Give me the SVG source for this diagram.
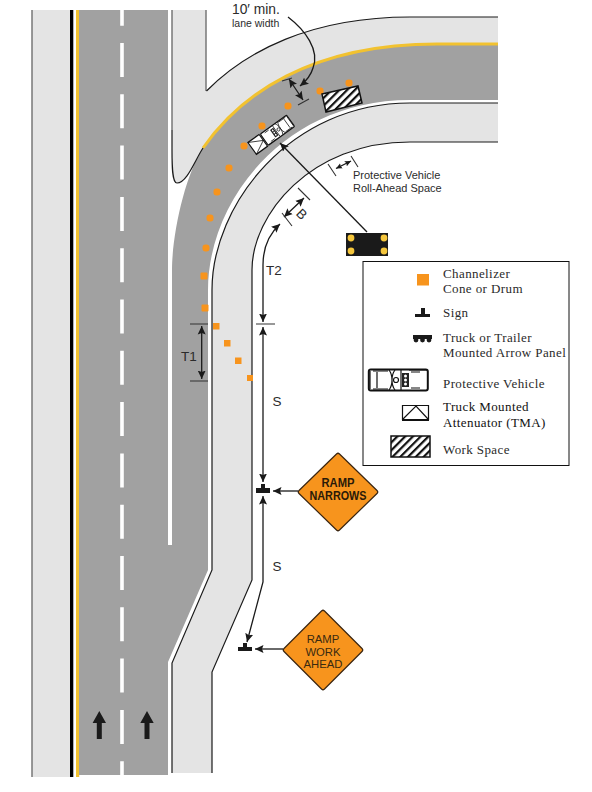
<svg xmlns="http://www.w3.org/2000/svg" width="592" height="792" viewBox="0 0 592 792">
<style>
text{font-family:"Liberation Sans",Arial,sans-serif;fill:#2b2b2b}
.lg{font-family:"Liberation Serif","Times New Roman",serif;font-size:13px;letter-spacing:.4px;fill:#2a2a2a}
.dim{font-size:13.5px}
.small{font-size:11px}
.road{fill:#a1a1a1}
.sh{fill:#e4e4e4}
.edge{fill:none;stroke:#1a1a1a;stroke-width:1.2}
.edgeg{fill:none;stroke:#777;stroke-width:1.5}
.con{fill:none;stroke:#1a1a1a;stroke-width:1.3}
.tick{fill:none;stroke:#333;stroke-width:1.1}
.cone{fill:#f7941d}
.dia{fill:#f7941d;stroke:#3a2510;stroke-width:1.2;stroke-linejoin:round}
.ink{fill:#1a1a1a}
.veh{fill:#fff;stroke:#111;stroke-width:2}
.thin{fill:none;stroke:#111;stroke-width:1.2}
</style>
<defs>
<marker id="ah" viewBox="0 0 9 9" refX="8.5" refY="4.5" markerWidth="9" markerHeight="9" markerUnits="userSpaceOnUse" orient="auto-start-reverse"><path d="M0,.5 L8.5,4.5 L0,8.5 L1.5,4.5 Z" fill="#1a1a1a"/></marker>
<marker id="as" viewBox="0 0 9 9" refX="8.5" refY="4.500" markerWidth="6.500" markerHeight="6.500" markerUnits="userSpaceOnUse" orient="auto-start-reverse"><path d="M0,.5 L8.5,4.5 L0,8.5 L1.5,4.5 Z" fill="#1a1a1a"/></marker>
<pattern id="hatch" width="5.500" height="5.500" patternUnits="userSpaceOnUse" patternTransform="rotate(45)"><rect width="5.500" height="5.500" fill="#fff"/><rect width="2.200" height="5.500" fill="#111"/></pattern>
<g id="truck">
<rect class="veh" x="0.8" y="-10.5" width="59" height="21" rx="2"/>
<path class="thin" d="M2,-9 L2,9 M5,-9 L20,-9 M5,9 L20,9 M9,-8 L9,8 M21,-10 C25,-5 25,5 21,10 M27,-10 C23,-5 23,5 27,10 M33,-10 L33,10 M41,-10 L59,-10 M43,-8 L52,-8 M43,8 L52,8"/>
<circle class="thin" cx="28" cy="0" r="2.500"/>
<rect x="34" y="-7" width="7" height="14" fill="#222"/>
<circle cx="37.500" cy="-4" r="1.500" fill="#fff"/><circle cx="37.500" cy="0" r="1.500" fill="#fff"/><circle cx="37.500" cy="4" r="1.500" fill="#fff"/>
</g>
</defs>
<rect width="592" height="792" fill="#fff"/>
<g id="roadway">
<rect class="sh" x="32" y="10" width="38" height="767"/>
<path class="edgeg" d="M32,10 V777"/>
<rect x="70" y="10" width="3.300" height="767" fill="#000"/>
<rect x="76" y="10" width="3.200" height="767" fill="#f2c230"/>
<rect class="road" x="79" y="10" width="89" height="765"/>
<path class="road" d="M172,545 V270 C172,235 185,175 203,148 C240,95 310,44 437,44 H498 V100 H410 C285,100 208,200 208,290 V570 L168,662 V545 Z"/>
<path d="M122,10 V775" fill="none" stroke="#fff" stroke-width="3.600" stroke-dasharray="34 17.300" stroke-dashoffset="18.300"/>
<path class="sh" d="M172,10 H206 V91 C245,52 310,17 410,17 H498 V44 H437 C310,44 240,95 203,148 C195,160 187,183 177,183 C172,183 172,165 172,150 Z"/>
<path class="sh" d="M212,773 V672 L252,580 V270 C252,215 310,142 410,142 H498 V103 H410 C290,103 212,205 212,290 V570 L172,663 V773 Z"/>
<path d="M203,148 C240,95 310,44 437,44 H498" fill="none" stroke="#f2c230" stroke-width="3"/>
<path class="edgeg" d="M172,10 V130"/>
<path class="edge" d="M172,130 V150 C172,165 172,183 177,183 C187,183 195,160 203,148"/>
<path class="edgeg" d="M206,10 V91"/>
<path class="edge" d="M206.500,91 C245,52 310,17 410,17 H498"/>
<path class="edge" d="M172,773 V663 L212,570 V290 C212,205 290,103 410,103 H498"/>
<path class="edge" d="M212,773 V672 L252,580 V270 C252,215 310,142 410,142 H498"/>
<path d="M99.300,711 L106,723 H101.800 V739 H96.800 V723 H92.600 Z M147,711 L153.700,723 H149.500 V739 H144.500 V723 H140.300 Z" class="ink"/>
</g>
<g id="channelizers" class="cone">
<rect x="345.500" y="79.500" width="7" height="7" rx="3"/><rect x="316.500" y="87.500" width="7" height="7" rx="3"/><rect x="284.500" y="102.500" width="7" height="7" rx="3"/><rect x="258.500" y="122.500" width="7" height="7" rx="3"/><rect x="240.500" y="142.500" width="7" height="7" rx="3"/><rect x="225.500" y="164.500" width="7" height="7" rx="3"/><rect x="213.500" y="188.500" width="7" height="7" rx="3"/><rect x="206.500" y="214.500" width="7" height="7" rx="3"/><rect x="202.500" y="244.500" width="7" height="7" rx="3"/><rect x="200.500" y="272.500" width="7" height="7" rx="1"/><rect x="201.500" y="304.500" width="7" height="7" rx="1"/><rect x="213" y="323" width="6.500" height="6.500"/><rect x="224" y="340" width="6.500" height="6.500"/><rect x="235" y="357.500" width="6.500" height="6.500"/><rect x="247" y="375" width="6" height="6"/>
</g>
<g id="work-space"><path d="M322,94 L358,86 L362,103 L326,112 Z" fill="url(#hatch)" stroke="#111" stroke-width="1.500"/></g>
<g id="protective-vehicle" transform="translate(291,120.500) rotate(144.300) scale(.55,.66)">
<use href="#truck"/>
<rect class="veh" x="62" y="-11" width="25" height="22" stroke-width="2.800"/>
<path class="thin" stroke-width="1.800" d="M62,0 L87,-11 M62,0 L87,11"/>
</g>
<g id="arrow-panel">
<rect x="346" y="233" width="42" height="23" fill="#1a1a1a"/>
<circle cx="351" cy="238" r="3.400" fill="#f5c63c"/><circle cx="384" cy="238" r="3.400" fill="#f5c63c"/><circle cx="351" cy="251" r="3.400" fill="#f5c63c"/><circle cx="384" cy="251" r="3.400" fill="#f5c63c"/>
</g>
<g id="sign-ramp-narrows">
<path class="dia" d="M336.500,454 Q338,452.500 339.500,454 L377,490.500 Q378.500,492 377,493.500 L339.500,530 Q338,531.500 336.500,530 L299,493.500 Q297.500,492 299,490.500 Z"/>
<text x="338" y="486.500" font-size="12.500" font-weight="bold" text-anchor="middle" textLength="33" lengthAdjust="spacingAndGlyphs" style="fill:#2a1a08">RAMP</text>
<text x="338" y="500" font-size="12.500" font-weight="bold" text-anchor="middle" textLength="57" lengthAdjust="spacingAndGlyphs" style="fill:#2a1a08">NARROWS</text>
</g>
<g id="sign-ramp-work-ahead">
<path class="dia" d="M321.500,611 Q323,609.500 324.500,611 L362,648.500 Q363.500,650 362,651.500 L324.500,689 Q323,690.500 321.500,689 L284,651.500 Q282.500,650 284,648.500 Z"/>
<text x="323" y="642.700" font-size="11.300" text-anchor="middle" style="fill:#3a2a10">RAMP</text>
<text x="323" y="655.800" font-size="11.300" text-anchor="middle" style="fill:#3a2a10">WORK</text>
<text x="323" y="668" font-size="11.300" text-anchor="middle" style="fill:#3a2a10">AHEAD</text>
</g>
<g id="sign-symbol-1" class="ink"><path d="M261,484 H265 V488 H270 V493 H256 V488 H261 Z"/></g>
<g id="sign-symbol-2" class="ink"><path d="M243,643 H247 V647 H252 V651 H238 V647 H243 Z"/></g>
<g id="connectors">
<path class="con" marker-end="url(#ah)" d="M367,232 L280,143"/>
<path class="con" marker-end="url(#ah)" d="M288,17 C305,30 320,50 313,68 C311,75 305,82 300,86"/>
<path class="con" marker-start="url(#ah)" marker-end="url(#ah)" d="M289,79 L303,100"/>
<path class="tick" d="M282,81 L292,78 M298,105 L309,99"/>
<path class="con" marker-start="url(#as)" marker-end="url(#as)" d="M336,168.500 L351,161"/>
<path class="tick" d="M328,164 L336,176 M351,156 L358,167"/>
<path class="con" marker-start="url(#ah)" marker-end="url(#ah)" d="M284,217 L304,198"/>
<path class="tick" d="M282,213 L292,226 M298,188 L310,200"/>
<path class="con" marker-start="url(#ah)" marker-end="url(#ah)" d="M263,322 V265 C263,250 268,235 280,224"/>
<path class="tick" d="M256,324 H275 M190,324 H208 M190,381 H208"/>
<path class="con" marker-start="url(#ah)" marker-end="url(#ah)" d="M263,327 V482"/>
<path class="con" marker-start="url(#ah)" marker-end="url(#ah)" d="M263,496 V582 L247,642"/>
<path class="con" marker-start="url(#ah)" marker-end="url(#ah)" d="M201.700,326 V379"/>
<path class="con" marker-end="url(#ah)" d="M298,491 H273"/>
<path class="con" marker-end="url(#ah)" d="M283,649 H255"/>
</g>
<g id="labels">
<text x="232" y="13.500" font-size="13.800">10′ min.</text>
<text x="232" y="26.500" font-size="10.500">lane width</text>
<text class="small" x="353" y="178.500">Protective Vehicle</text>
<text class="small" x="353" y="191.500">Roll-Ahead Space</text>
<text class="dim" x="302" y="219" text-anchor="middle" transform="rotate(45 302 214)">B</text>
<text class="dim" x="266" y="275">T2</text>
<text class="dim" x="189" y="361" text-anchor="middle">T1</text>
<text class="dim" x="277" y="405.500" text-anchor="middle">S</text>
<text class="dim" x="277" y="571" text-anchor="middle">S</text>
</g>
<g id="legend">
<rect x="363" y="261.500" width="206" height="204" fill="#fff" stroke="#111" stroke-width="1"/>
<rect class="cone" x="417" y="274" width="12" height="11.500"/>
<text class="lg" x="443" y="278">Channelizer</text>
<text class="lg" x="443" y="293">Cone or Drum</text>
<path class="ink" d="M421,308 H425 V314 H430 V317 H415 V314 H421 Z"/>
<text class="lg" x="443" y="317">Sign</text>
<path class="ink" d="M413,335 H432 V339 H413 Z"/>
<circle class="ink" cx="416" cy="340" r="2.400"/><circle class="ink" cx="422.500" cy="340" r="2.400"/><circle class="ink" cx="429" cy="340" r="2.400"/>
<text class="lg" x="443" y="342">Truck or Trailer</text>
<text class="lg" x="443" y="357">Mounted Arrow Panel</text>
<use href="#truck" transform="translate(368,380)"/>
<text class="lg" x="443" y="388">Protective Vehicle</text>
<path d="M402.500,405.500 H428.500 V419.500 H402.500 Z" fill="#fff" stroke="#111" stroke-width="1.200"/>
<path d="M402,420 H429" stroke="#111" stroke-width="2"/>
<path class="thin" d="M403,419 L416,406 L428,419"/>
<text class="lg" x="443" y="411" style="fill:#111">Truck Mounted</text>
<text class="lg" x="443" y="427" style="fill:#111">Attenuator (TMA)</text>
<rect x="391" y="436" width="39" height="21" fill="url(#hatch)" stroke="#111" stroke-width="1.500"/>
<text class="lg" x="443" y="454">Work Space</text>
</g>
</svg>
